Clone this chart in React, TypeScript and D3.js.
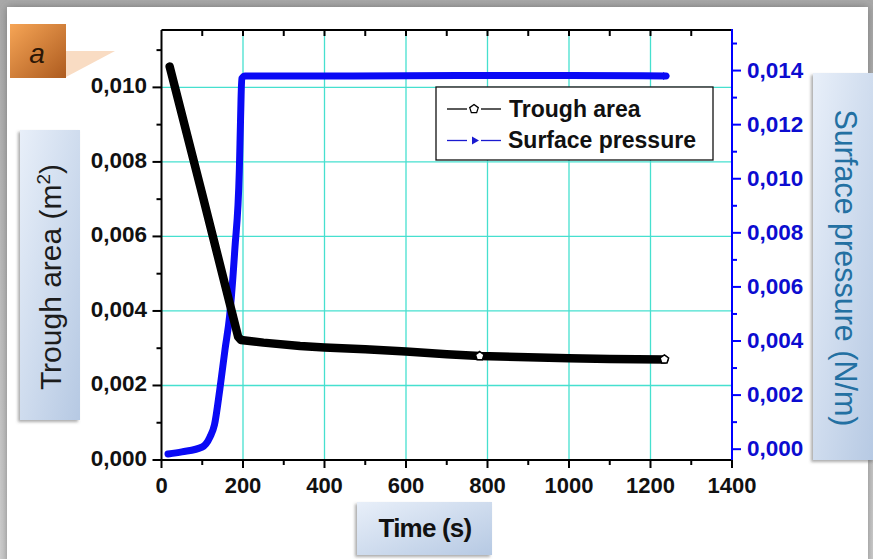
import React from "react";
import * as d3 from "d3";

// ---- data ----
const troughTime = [20, 100, 188, 195, 250, 340, 400, 500, 600, 700, 781, 900, 1000, 1100, 1234];
const troughArea = [0.01056, 0.00713, 0.00331, 0.00322, 0.00315, 0.00306, 0.00302, 0.00297, 0.00291, 0.00284, 0.00279, 0.00276, 0.00273, 0.00271, 0.0027];
const troughMarkerTime = [781, 1234];
const troughMarkerArea = [0.00279, 0.0027];

const pressureTime = [16, 50, 100, 119, 130, 143, 156, 167, 180, 191, 194, 197, 205, 400, 600, 800, 1000, 1238];
const pressureValue = [-0.00018, -0.0001, 0.00008, 0.00045, 0.0009, 0.0022, 0.0037, 0.0049, 0.0074, 0.0103, 0.0122, 0.0137, 0.0138, 0.0138, 0.01381, 0.01382, 0.01382, 0.0138];

const xTicks = [0, 200, 400, 600, 800, 1000, 1200, 1400];
const xMinorTicks = [100, 300, 500, 700, 900, 1100, 1300];
const leftTicks = [0, 0.002, 0.004, 0.006, 0.008, 0.01];
const leftMinor = [0.001, 0.003, 0.005, 0.007, 0.009, 0.011];
const rightTicks = [0, 0.002, 0.004, 0.006, 0.008, 0.01, 0.012, 0.014];
const rightMinor = [0.001, 0.003, 0.005, 0.007, 0.009, 0.011, 0.013, 0.015];

const FONT = "'Liberation Sans', Arial, sans-serif";
const fmt = (v: number) => v.toFixed(3).replace(".", ",");

export default function App() {
  const W = 873, H = 559;
  const L = 161.5, R = 732, T = 30, B = 460;
  const x = d3.scaleLinear().domain([0, 1400]).range([L, R]);
  const yL = d3.scaleLinear().domain([0, 0.01154]).range([B, T]);
  const yR = d3.scaleLinear().domain([-0.0004, 0.0155]).range([B, T]);

  const troughPath = d3.line<number>()
    .x((_, i) => x(troughTime[i]))
    .y((d) => yL(d))
    .curve(d3.curveLinear)(troughArea) || "";
  const pressurePath = d3.line<number>()
    .x((_, i) => x(pressureTime[i]))
    .y((d) => yR(d))
    .curve(d3.curveMonotoneX)(pressureValue) || "";

  const pent = (cx: number, cy: number, r: number) =>
    d3.range(5).map((k) => {
      const a = -Math.PI / 2 + (k * 2 * Math.PI) / 5;
      return `${cx + r * Math.cos(a)},${cy + r * Math.sin(a)}`;
    }).join(" ");

  const lastP = pressureValue.length - 1;
  const triX = x(pressureTime[lastP]);
  const triY = yR(pressureValue[lastP]);

  return (
    <svg width={W} height={H} style={{ position: "absolute", left: 0, top: 0 }} fontFamily={FONT}>
      <defs>
        <linearGradient id="bgEdge" x1="0" y1="0" x2="0" y2="1">
          <stop offset="0" stopColor="#a9a9a9" />
          <stop offset="1" stopColor="#cfcfcf" />
        </linearGradient>
        <filter id="cardShadow" x="-5%" y="-5%" width="110%" height="110%">
          <feDropShadow dx="0" dy="0" stdDeviation="4" floodColor="#555" floodOpacity="0.6" />
        </filter>
        <filter id="boxShadow" x="-20%" y="-20%" width="140%" height="140%">
          <feDropShadow dx="-2" dy="2" stdDeviation="1.5" floodColor="#666" floodOpacity="0.55" />
        </filter>
        <linearGradient id="orange" x1="0" y1="0" x2="1" y2="1">
          <stop offset="0" stopColor="#f6a556" />
          <stop offset="1" stopColor="#ad5b1f" />
        </linearGradient>
        <linearGradient id="blueBox" x1="0" y1="0" x2="1" y2="1">
          <stop offset="0" stopColor="#e8eff9" />
          <stop offset="1" stopColor="#b6c9e3" />
        </linearGradient>
        <clipPath id="plotClip">
          <rect x={L} y={T} width={R - L} height={B - T} />
        </clipPath>
      </defs>

      {/* background card */}
      <rect x={0} y={0} width={W} height={H} fill="url(#bgEdge)" />
      <rect x={7} y={7} width={861} height={H} fill="#ffffff" filter="url(#cardShadow)" />

      {/* label a */}
      <polygon points="66,51 115,51 66,77" fill="#f9dcc3" />
      <rect x={10} y={24} width={56} height={54} fill="url(#orange)" />
      <text x={37} y={63} textAnchor="middle" fontSize={28} fontStyle="italic" fill="#2b1606">a</text>

      {/* grid */}
      <g stroke="#46e0cf" strokeWidth={1.3}>
        {xTicks.filter((t) => t > 0 && t < 1400).map((t) => (
          <line key={"gx" + t} x1={x(t)} x2={x(t)} y1={T} y2={B} />
        ))}
        {leftTicks.filter((t) => t > 0).map((t) => (
          <line key={"gy" + t} x1={L} x2={R} y1={yL(t)} y2={yL(t)} />
        ))}
      </g>

      {/* data */}
      <g clipPath="url(#plotClip)">
        <path d={pressurePath} fill="none" stroke="#0a0af5" strokeWidth={7} strokeLinejoin="round" strokeLinecap="round" />
        <path d={troughPath} fill="none" stroke="#000" strokeWidth={8.5} strokeLinejoin="round" strokeLinecap="round" />
        {troughMarkerTime.map((t, i) => (
          <polygon key={"pm" + i} points={pent(x(t), yL(troughMarkerArea[i]), 4.5)} fill="#fff" stroke="#000" strokeWidth={1.5} />
        ))}
      </g>
      <polygon points={`${triX - 3},${triY - 4} ${triX + 4},${triY} ${triX - 3},${triY + 4}`} fill="#0a0af5" />

      {/* axes frame */}
      <line x1={L} x2={R} y1={T} y2={T} stroke="#000" strokeWidth={2} />
      <line x1={L} x2={R} y1={B} y2={B} stroke="#000" strokeWidth={2} />
      <line x1={L} x2={L} y1={T} y2={B + 1} stroke="#000" strokeWidth={2} />
      <line x1={R} x2={R} y1={T - 1} y2={B + 1} stroke="#0000ff" strokeWidth={2} />

      {/* bottom / top ticks */}
      <g stroke="#000" strokeWidth={2}>
        {xTicks.map((t) => <line key={"bt" + t} x1={x(t)} x2={x(t)} y1={B} y2={B + 8} />)}
        {xMinorTicks.map((t) => <line key={"bm" + t} x1={x(t)} x2={x(t)} y1={B} y2={B + 5} />)}
        {xTicks.concat(xMinorTicks).filter((t) => t > 0 && t < 1400).map((t) => (
          <line key={"tt" + t} x1={x(t)} x2={x(t)} y1={T} y2={T + 6} />
        ))}
      </g>
      <g fontSize={22} fontWeight="bold" fill="#111" textAnchor="middle">
        {xTicks.map((t) => <text key={"bl" + t} x={x(t)} y={493}>{t}</text>)}
      </g>

      {/* left ticks */}
      <g stroke="#000" strokeWidth={2}>
        {leftTicks.map((t) => <line key={"lt" + t} x1={L - 9} x2={L} y1={yL(t)} y2={yL(t)} />)}
        {leftMinor.map((t) => <line key={"lm" + t} x1={L - 5} x2={L} y1={yL(t)} y2={yL(t)} />)}
      </g>
      <g fontSize={22.5} fontWeight="bold" fill="#111" textAnchor="end">
        {leftTicks.map((t) => <text key={"ll" + t} x={147} y={yL(t) + 6}>{fmt(t)}</text>)}
      </g>

      {/* right ticks */}
      <g stroke="#0000ff" strokeWidth={2}>
        {rightTicks.map((t) => <line key={"rt" + t} x1={R} x2={R + 9} y1={yR(t)} y2={yR(t)} />)}
        {rightMinor.map((t) => <line key={"rm" + t} x1={R} x2={R + 5} y1={yR(t)} y2={yR(t)} />)}
      </g>
      <g fontSize={22.5} fontWeight="bold" fill="#0c0cd0" textAnchor="start">
        {rightTicks.map((t) => <text key={"rl" + t} x={747} y={yR(t) + 7}>{fmt(t)}</text>)}
      </g>

      {/* legend */}
      <rect x={436} y={87} width={277} height={73} fill="#fff" stroke="#111" strokeWidth={1.3} />
      <line x1={447} x2={467} y1={109} y2={109} stroke="#000" strokeWidth={1.3} />
      <line x1={481} x2={501} y1={109} y2={109} stroke="#000" strokeWidth={1.3} />
      <polygon points={pent(474, 109, 4.5)} fill="#fff" stroke="#000" strokeWidth={1.3} />
      <text x={509} y={117} fontSize={23} fontWeight="bold" fill="#111">Trough area</text>
      <line x1={447} x2={467} y1={140.5} y2={140.5} stroke="#1a1ad0" strokeWidth={1.3} />
      <line x1={481} x2={501} y1={140.5} y2={140.5} stroke="#1a1ad0" strokeWidth={1.3} />
      <polygon points="472,136.5 479,140.5 472,144.5" fill="#1a1ad0" />
      <text x={508} y={148} fontSize={23} fontWeight="bold" fill="#111">Surface pressure</text>

      {/* left title box */}
      <rect x={20} y={130} width={60} height={290} fill="url(#blueBox)" filter="url(#boxShadow)" />
      <text transform="translate(61,277) rotate(-90)" textAnchor="middle" fontSize={30} fill="#1c1c1c">
        Trough area (m<tspan dy={-11} fontSize={19}>2</tspan><tspan dy={11}>)</tspan>
      </text>

      {/* right title box */}
      <rect x={813} y={73} width={62} height={387} fill="url(#blueBox)" filter="url(#boxShadow)" />
      <text transform="translate(835,268) rotate(90)" textAnchor="middle" fontSize={30.5} fill="#2370a2">
        Surface pressure (N/m)
      </text>

      {/* bottom title box */}
      <rect x={357} y={502} width={135} height={53} fill="url(#blueBox)" filter="url(#boxShadow)" />
      <text x={425} y={537} textAnchor="middle" fontSize={26} fontWeight="bold" fill="#111" letterSpacing={-0.8}>Time (s)</text>
    </svg>
  );
}
